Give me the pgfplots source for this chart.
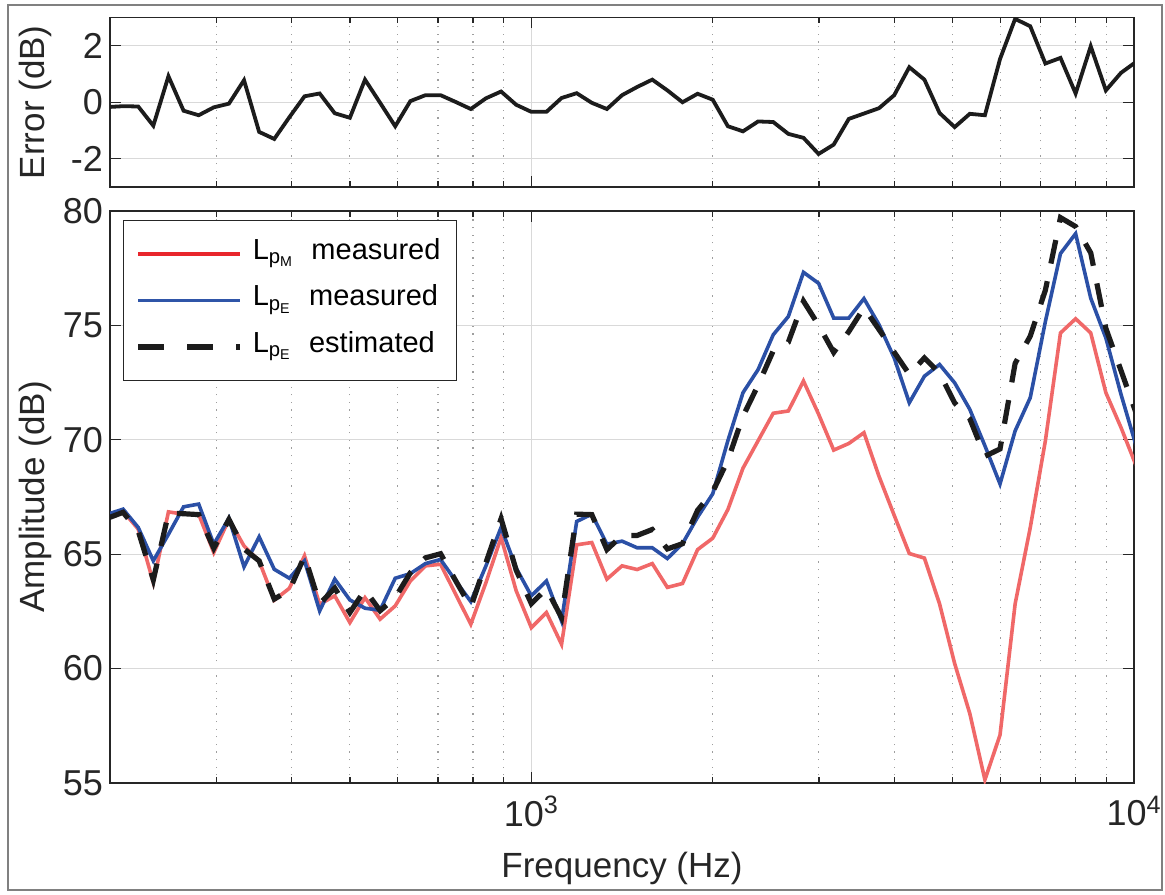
\documentclass[border=0pt]{standalone}
\usepackage{fontspec}
\setmainfont{Liberation Sans}
\usepackage{pgfplots}
\pgfplotsset{compat=1.18}
\usepackage{pgfplotstable}

\definecolor{cred}{HTML}{F06868}
\definecolor{cblue}{HTML}{2B50A6}
\definecolor{lred}{HTML}{E8262C}
\definecolor{lblue}{HTML}{2F55A8}
\definecolor{cblack}{HTML}{1C1C1C}
\definecolor{axcol}{HTML}{262626}

\pgfplotstableread{
f red blue est err
198.43 66.60 66.75 66.58 -0.17
210.22 66.87 66.97 66.83 -0.14
222.72 66.10 66.17 66.02 -0.15
235.96 63.76 64.71 63.88 -0.83
250.00 66.85 65.87 66.79 0.92
264.87 66.75 67.07 66.77 -0.30
280.62 66.75 67.19 66.73 -0.46
297.30 65.07 65.44 65.26 -0.18
314.98 66.53 66.57 66.52 -0.05
333.71 65.36 64.45 65.23 0.78
353.55 64.70 65.76 64.71 -1.05
374.58 62.99 64.34 63.04 -1.30
396.85 63.51 63.95 63.42 -0.53
420.45 64.93 64.71 64.92 0.21
445.45 62.81 62.52 62.83 0.31
471.94 63.18 63.91 63.52 -0.39
500.00 62.01 63.00 62.45 -0.55
529.73 63.10 62.64 63.44 0.80
561.23 62.16 62.55 62.53 -0.02
594.60 62.74 63.95 63.10 -0.85
629.96 63.83 64.15 64.19 0.04
667.42 64.49 64.59 64.84 0.25
707.11 64.56 64.77 65.02 0.25
749.15 63.25 63.83 63.84 0.01
793.70 61.94 62.93 62.69 -0.24
840.90 63.76 64.49 64.63 0.14
890.90 65.73 66.17 66.55 0.38
943.87 63.40 64.39 64.30 -0.09
1000.00 61.79 63.18 62.84 -0.34
1059.46 62.45 63.83 63.49 -0.34
1122.46 61.06 62.08 62.23 0.15
1189.21 65.41 66.43 66.75 0.32
1259.92 65.51 66.75 66.73 -0.02
1334.84 63.91 65.44 65.20 -0.24
1414.21 64.49 65.57 65.82 0.25
1498.31 64.33 65.28 65.82 0.54
1587.40 64.59 65.28 66.08 0.80
1681.79 63.55 64.81 65.23 0.42
1781.80 63.72 65.46 65.46 0.00
1887.75 65.20 66.62 66.92 0.30
2000.00 65.70 67.64 67.73 0.09
2118.93 66.95 69.96 69.11 -0.85
2244.92 68.76 72.06 71.03 -1.03
2378.41 69.96 73.07 72.39 -0.68
2519.84 71.16 74.59 73.89 -0.70
2669.68 71.26 75.39 74.27 -1.12
2828.43 72.57 77.32 76.06 -1.26
2996.61 71.12 76.84 75.01 -1.83
3174.80 69.55 75.32 73.82 -1.50
3363.59 69.84 75.32 74.73 -0.59
3563.59 70.31 76.17 75.77 -0.40
3775.50 68.40 75.03 74.82 -0.21
4000.00 66.70 73.58 73.83 0.25
4237.85 65.03 71.62 72.86 1.24
4489.85 64.83 72.78 73.58 0.80
4756.83 62.83 73.29 72.91 -0.38
5039.68 60.22 72.49 71.61 -0.88
5339.36 58.04 71.33 70.92 -0.41
5656.85 55.14 69.74 69.28 -0.46
5993.23 57.10 68.07 69.60 1.53
6349.60 62.83 70.39 73.34 2.95
6727.17 66.16 71.84 74.53 2.69
7127.19 69.96 75.17 76.54 1.37
7551.00 74.67 78.14 79.71 1.57
8000.00 75.29 79.01 79.32 0.31
8475.70 74.67 76.19 78.17 1.98
8979.70 72.06 74.45 74.87 0.42
9513.66 70.54 71.99 73.03 1.04
10079.37 68.87 69.74 71.17 1.43
}\data

\begin{document}
\begin{tikzpicture}
\useasboundingbox (0,0) rectangle (582.5pt,447pt);
\draw[black!50, line width=0.6pt] (4pt,2pt) rectangle (581pt,444.5pt);

% top: error
\begin{axis}[
  scale only axis, width=512pt, height=84.75pt,
  at={(55pt,353.5pt)}, anchor=south west,
  xmode=log, xmin=200, xmax=10000,
  axis line style={draw=axcol, line width=0.65pt},
  tick align=inside, xtick pos=both, ytick pos=both,
  xticklabel pos=lower, yticklabel pos=left,
  xtick={1000,10000},
  minor xtick={200,300,400,500,600,700,800,900,2000,3000,4000,5000,6000,7000,8000,9000},
  major tick length=5.5pt, minor tick length=3pt,
  every tick/.style={draw=axcol, line width=0.65pt},
  xmajorgrids, xminorgrids, ymajorgrids,
  major grid style={draw=black!15, line width=0.6pt},
  minor grid style={draw=black!38, line width=0.6pt, dash pattern=on 0.6pt off 3.2pt},
  tick label style={font=\fontsize{18}{20}\selectfont, text=axcol},
  every axis y label/.style={at={(axis description cs:-0.0732,0.5)}, rotate=90, anchor=center,
    font=\fontsize{17.5}{20}\selectfont, text=axcol},
  ymin=-3, ymax=3, ytick={-2,0,2}, yticklabels={-2,0,2},
  xticklabels={},
  ylabel={Error (dB)},
]
\addplot[cblack, line width=1.9pt] table[x=f, y=err] {\data};
\end{axis}

% bottom: amplitude
\begin{axis}[
  scale only axis, width=512pt, height=286pt,
  at={(55pt,55.5pt)}, anchor=south west,
  xmode=log, xmin=200, xmax=10000,
  axis line style={draw=axcol, line width=0.65pt},
  tick align=inside, xtick pos=both, ytick pos=both,
  xticklabel pos=lower, yticklabel pos=left,
  xtick={1000,10000},
  minor xtick={200,300,400,500,600,700,800,900,2000,3000,4000,5000,6000,7000,8000,9000},
  major tick length=5.5pt, minor tick length=3pt,
  every tick/.style={draw=axcol, line width=0.65pt},
  xmajorgrids, xminorgrids, ymajorgrids,
  major grid style={draw=black!15, line width=0.6pt},
  minor grid style={draw=black!38, line width=0.6pt, dash pattern=on 0.6pt off 3.2pt},
  tick label style={font=\fontsize{18}{20}\selectfont, text=axcol},
  every axis y label/.style={at={(axis description cs:-0.0732,0.5)}, rotate=90, anchor=center,
    font=\fontsize{17.5}{20}\selectfont, text=axcol},
  every axis x label/.style={at={(axis description cs:0.5,-0.150)}, anchor=center,
    font=\fontsize{17.5}{20}\selectfont, text=axcol},
  xticklabel style={yshift=-3pt},
  ymin=55, ymax=80, ytick={55,60,65,70,75,80}, yticklabels={55,60,65,70,75,80},
  xticklabels={10\textsuperscript{3},10\textsuperscript{4}},
  xlabel={Frequency (Hz)}, ylabel={Amplitude (dB)},
  legend image code/.code={\draw[#1] (0pt,0pt) -- (51pt,0pt);},
  legend cell align=left,
  legend style={at={(axis description cs:0.0127,0.984)}, anchor=north west,
    draw=axcol, line width=0.6pt, font=\fontsize{14.5}{17}\selectfont,
    inner xsep=6pt, inner ysep=6.8pt, row sep=3.8pt,
    nodes={inner sep=2pt, text depth=5pt}},
]
\addplot[cred, line width=1.8pt, forget plot] table[x=f, y=red] {\data};
\addplot[cblue, line width=1.8pt, forget plot] table[x=f, y=blue] {\data};
\addplot[cblack, line width=2.6pt, dash pattern=on 12pt off 9pt, forget plot] table[x=f, y=est] {\data};
\addlegendimage{lred, line width=1.7pt}
\addlegendentry{\hspace{3pt}L\textsubscript{p\textsubscript{M}}\hspace{0.6em}measured}
\addlegendimage{lblue, line width=1.7pt}
\addlegendentry{\hspace{3pt}L\textsubscript{p\textsubscript{E}}\hspace{0.6em}measured}
\addlegendimage{cblack, line width=2.6pt, dash pattern=on 13pt off 11.5pt}
\addlegendentry{\hspace{3pt}L\textsubscript{p\textsubscript{E}}\hspace{0.6em}estimated}
\end{axis}
\end{tikzpicture}
\end{document}
